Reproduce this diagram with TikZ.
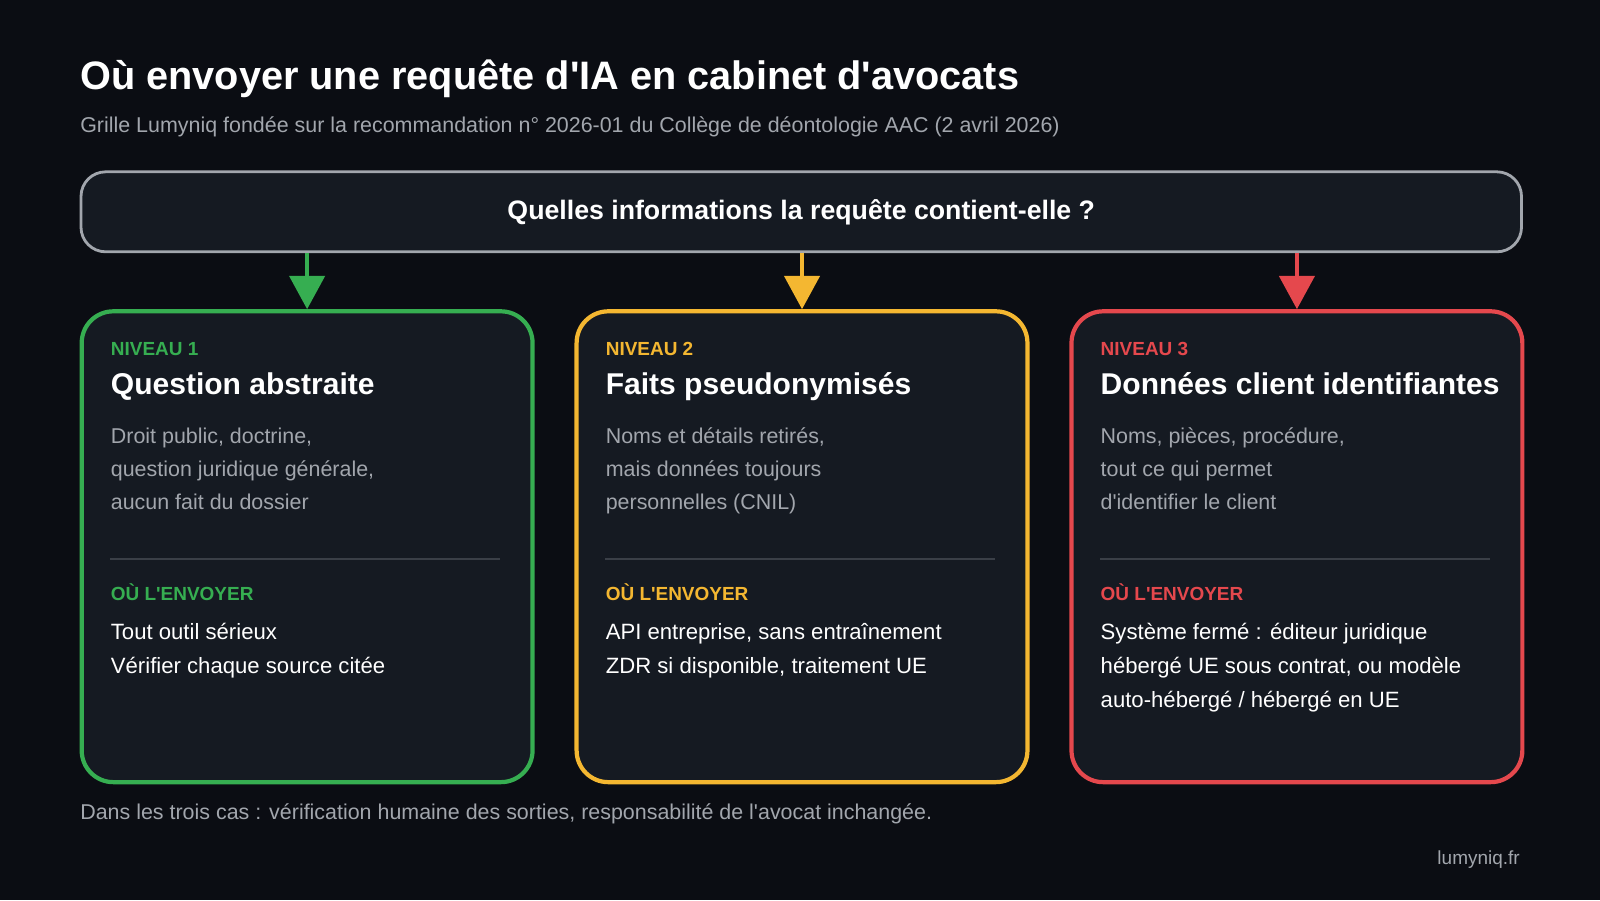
\documentclass[tikz,border=0pt]{standalone}
\usepackage{fontspec}
\setmainfont{Liberation Sans}
\usetikzlibrary{positioning,arrows.meta}
\definecolor{bgc}{HTML}{0B0D13}
\definecolor{cardc}{HTML}{151A22}
\definecolor{lvlA}{HTML}{36AE51}
\definecolor{lvlB}{HTML}{F4B731}
\definecolor{lvlC}{HTML}{E5484D}
\definecolor{greyt}{HTML}{A2A6AD}
\definecolor{rulec}{HTML}{3A3F47}
\newcommand{\apos}{\textquotesingle}
\tikzset{
  every node/.style={inner sep=0pt},
  card/.style={draw=#1, line width=1.2pt, rounded corners=9pt, fill=cardc, minimum width=4.51cm, minimum height=4.71cm, anchor=north west},
  lvl/.style={anchor=base west, text=#1, font=\fontsize{5.4}{6}\selectfont\bfseries},
  ctitle/.style={anchor=base west, text=white, font=\fontsize{8.55}{10}\selectfont\bfseries},
  body/.style={anchor=base west, text=greyt, align=left, font=\fontsize{6.1}{9.4}\selectfont},
  dest/.style={anchor=base west, text=white, align=left, font=\fontsize{6.3}{9.6}\selectfont},
  arr/.style={draw=#1, line width=1.2pt, -{Triangle[length=9.5pt,width=10pt]}, color=#1}
}
\begin{document}
\begin{tikzpicture}[x=0.010204cm, y=-0.010204cm]
\fill[bgc] (0,0) rectangle (1568,882);
\useasboundingbox (0,0) rectangle (1568,882);
% header
\node[anchor=base west, text=white, font=\fontsize{11.3}{13}\selectfont\bfseries] (title) at (78,88) {Où envoyer une requête d\apos IA en cabinet d\apos avocats};
\node[anchor=base west, text=greyt, font=\fontsize{6.1}{7}\selectfont] (sub) at (78,130) {Grille Lumyniq fondée sur la recommandation n° 2026-01 du Collège de déontologie AAC (2 avril 2026)};
% question
\node[draw=greyt, line width=0.8pt, rounded corners=7pt, fill=cardc, minimum width=14.41cm, minimum height=0.80cm, anchor=north west, text=white, font=\fontsize{7.6}{9}\selectfont\bfseries] (q) at (78,167) {Quelles informations la requête contient-elle ?};
% cards
\node[card=lvlA] (c1) at (78,303) {};
\node[card=lvlB] (c2) at (563,303) {};
\node[card=lvlC] (c3) at (1048,303) {};
\draw[arr=lvlA] (q.south -| c1.north) -- (c1.north);
\draw[arr=lvlB] (q.south -| c2.north) -- (c2.north);
\draw[arr=lvlC] (q.south -| c3.north) -- (c3.north);
% card 1
\node[lvl=lvlA] (n1) at (108,348) {NIVEAU 1};
\node[ctitle] (t1) at (108,387) {Question abstraite};
\node[body] (b1) at (108,499) {Droit public, doctrine,\\question juridique générale,\\aucun fait du dossier};
\draw[rulec, line width=0.7pt] (108,548) -- (490,548);
\node[lvl=lvlA] (o1) at (108,588) {OÙ L\apos ENVOYER};
\node[dest] (d1) at (108,660) {Tout outil sérieux\\Vérifier chaque source citée};
% card 2
\node[lvl=lvlB] (n2) at (593,348) {NIVEAU 2};
\node[ctitle] (t2) at (593,387) {Faits pseudonymisés};
\node[body] (b2) at (593,499) {Noms et détails retirés,\\mais données toujours\\personnelles (CNIL)};
\draw[rulec, line width=0.7pt] (593,548) -- (975,548);
\node[lvl=lvlB] (o2) at (593,588) {OÙ L\apos ENVOYER};
\node[dest] (d2) at (593,660) {API entreprise, sans entraînement\\ZDR si disponible, traitement UE};
% card 3
\node[lvl=lvlC] (n3) at (1078,348) {NIVEAU 3};
\node[ctitle] (t3) at (1078,387) {Données client identifiantes};
\node[body] (b3) at (1078,499) {Noms, pièces, procédure,\\tout ce qui permet\\d\apos identifier le client};
\draw[rulec, line width=0.7pt] (1078,548) -- (1460,548);
\node[lvl=lvlC] (o3) at (1078,588) {OÙ L\apos ENVOYER};
\node[dest] (d3) at (1078,693) {Système fermé : éditeur juridique\\hébergé UE sous contrat, ou modèle\\auto-hébergé / hébergé en UE};
% footer
\node[anchor=base west, text=greyt, font=\fontsize{6.1}{7}\selectfont] (foot) at (78,803) {Dans les trois cas : vérification humaine des sorties, responsabilité de l\apos avocat inchangée.};
\node[anchor=base east, text=greyt, font=\fontsize{5.4}{6}\selectfont] (site) at (1490,847) {lumyniq.fr};
\end{tikzpicture}
\end{document}
